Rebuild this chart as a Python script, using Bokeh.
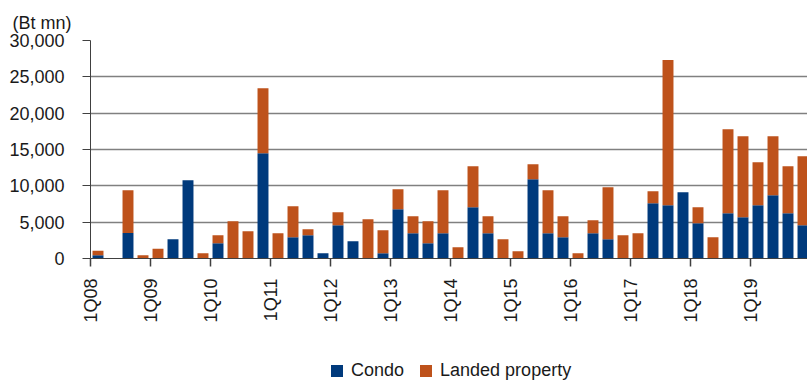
import math
from bokeh.plotting import figure
from bokeh.layouts import column
from bokeh.models import (Range1d, FixedTicker, NumeralTickFormatter, Legend,
                          LegendItem, Title, ColumnDataSource)
from bokeh.embed import file_html
from bokeh.resources import INLINE

# Quarterly transfer values, Bt mn, 1Q08 .. 4Q19
quarters = [f"{q}Q{y:02d}" for y in range(8, 20) for q in range(1, 5)]
condo = [450, 0, 3500, 0, 0, 2660, 10780, 0,
         2110, 0, 0, 14500, 0, 2940, 3210, 730,
         4590, 2390, 0, 730, 6790, 3490, 2110, 3490,
         0, 7060, 3490, 0, 0, 10900, 3490, 2940,
         0, 3490, 2660, 0, 0, 7610, 7340, 9130,
         4860, 0, 6240, 5690, 7340, 8720, 6240, 4590]
landed = [600, 0, 5900, 450, 1330, 0, 0, 730,
          1100, 5140, 3760, 8940, 3490, 4260, 830, 0,
          1790, 0, 5410, 3170, 2750, 2340, 3030, 5910,
          1560, 5640, 2340, 2660, 1000, 2080, 5910, 2890,
          730, 1790, 7160, 3210, 3490, 1660, 19960, 0,
          2200, 2940, 11560, 11140, 5920, 8110, 6460, 9490]
series_names = ["Condo", "Landed property"]
year_labels = [f"1Q{y:02d}" for y in range(8, 20)]
y_ticks = [0, 5000, 10000, 15000, 20000, 25000, 30000]

FONT = "Liberation Sans"
FS = "18px"
BLUE = "#003A7C"
ORANGE = "#BE521B"
INK = "#1a1a1a"

src = ColumnDataSource(dict(
    x=[i + 0.5 for i in range(len(quarters))],
    condo=condo,
    landed=landed,
))

p = figure(width=807, height=340, output_backend="svg", toolbar_location=None,
           x_range=Range1d(0, 47.8), y_range=Range1d(0, 30000),
           min_border_left=90, min_border_right=0, min_border_top=40,
           min_border_bottom=82)
p.outline_line_color = None
p.background_fill_color = "white"

p.vbar_stack(["condo", "landed"], x="x", width=0.73,
             color=[BLUE, ORANGE], line_color=None, source=src)

# y axis
yax = p.yaxis[0]
yax.ticker = FixedTicker(ticks=y_ticks)
yax.formatter = NumeralTickFormatter(format="0,0")
yax.major_label_text_font = FONT
yax.major_label_text_font_size = FS
yax.major_label_text_color = INK
yax.major_tick_out = 8
yax.major_tick_in = 0
yax.minor_tick_line_color = None
yax.major_label_standoff = 18
yax.axis_line_color = "#404040"
yax.major_tick_line_color = "#404040"

# x axis: year ticks every four quarters
xax = p.xaxis[0]
xax.ticker = FixedTicker(ticks=[4 * i for i in range(len(year_labels))])
xax.major_label_overrides = {4 * i: lab for i, lab in enumerate(year_labels)}
xax.major_label_orientation = math.pi / 2
xax.major_label_text_font = FONT
xax.major_label_text_font_size = FS
xax.major_label_text_color = INK
xax.major_tick_out = 8
xax.major_tick_in = 0
xax.major_tick_line_width = 1.5
xax.minor_tick_line_color = None
xax.major_label_standoff = 12
xax.axis_line_color = "#404040"
xax.major_tick_line_color = "#404040"

p.xgrid.grid_line_color = None
p.ygrid.ticker = FixedTicker(ticks=y_ticks)
p.ygrid.grid_line_color = "#808080"
p.ygrid.grid_line_width = 1.5

unit = Title(text="(Bt mn)", align="left", offset=-78, text_font=FONT,
             text_font_size=FS, text_font_style="normal", text_color=INK,
             standoff=15)
p.add_layout(unit, "above")

# legend strip below the chart (its frame lines up with the chart frame);
# the swatch renderers are zero-height bars, so only their legend entries show
lf = figure(width=807, height=46, output_backend="svg", toolbar_location=None,
            x_range=Range1d(0, 1), y_range=Range1d(0, 1), min_border=0)
lf.axis.visible = False
lf.grid.visible = False
lf.outline_line_color = None
swatches = [lf.vbar(x=[0.5], top=[0], bottom=[0], width=0.1, color=c,
                    line_color=None)
            for c in (BLUE, ORANGE)]
legend = Legend(items=[LegendItem(label=n, renderers=[r])
                       for n, r in zip(series_names, swatches)],
                location=(239, 5), orientation="horizontal",
                glyph_width=15, glyph_height=15, label_height=15,
                label_standoff=7, spacing=14, padding=0, margin=0,
                border_line_color=None, background_fill_alpha=0,
                label_text_font=FONT, label_text_font_size=FS,
                label_text_color=INK)
lf.add_layout(legend)

open("out.html", "w").write(file_html(column(p, lf, spacing=0), INLINE))
